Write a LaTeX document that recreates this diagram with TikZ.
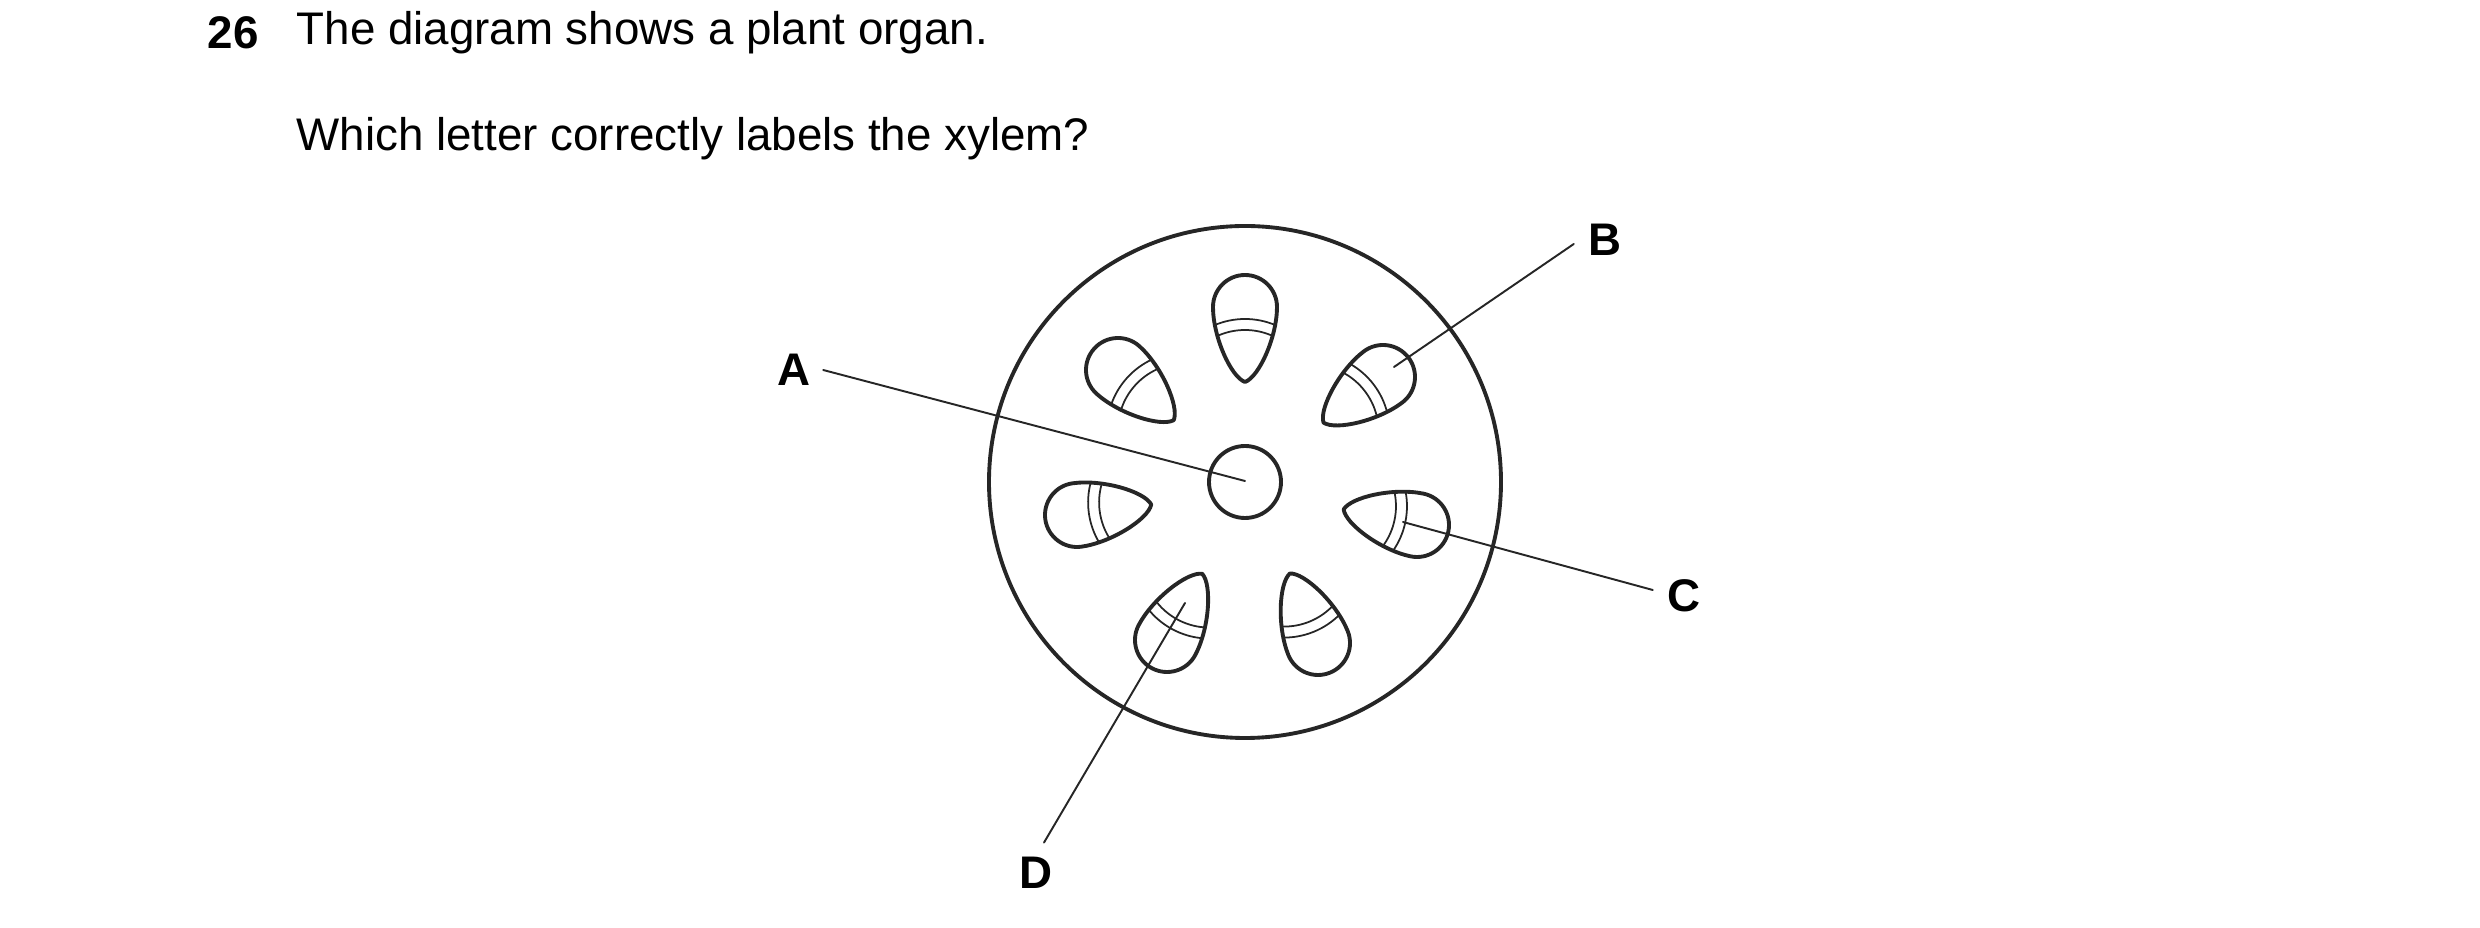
\documentclass[tikz,border=0pt]{standalone}
\usepackage{fontspec}
\setmainfont{Liberation Sans}

% one vascular bundle: rounded end at the origin, tip along +x
\newcommand{\bundleshape}{(75,0) .. controls (70,14) and (30,32) .. (0,32)
    arc (90:270:32) .. controls (30,-32) and (70,-14) .. (75,0) -- cycle}
\newcommand{\bundle}[3]{%
    \begin{scope}[shift={(#1,#2)}, rotate=#3]
        \begin{scope}
            \clip \bundleshape;
            \draw[band] (90,0) circle (78);
            \draw[band] (90,0) circle (67);
        \end{scope}
        \draw[organ] \bundleshape;
    \end{scope}}

\begin{document}
\begin{tikzpicture}[%
        x = 0.01cm,
        y = -0.01cm,
        line cap = round,
        line join = round,
        organ/.style = {line width = 1.1pt, black!85},
        band/.style = {line width = 0.5pt, black!85},
        pointer/.style = {line width = 0.55pt, black!85},
        letter/.style = {font = \fontsize{13}{15}\selectfont\bfseries, inner sep = 0pt}
    ]
        \useasboundingbox (0,0) rectangle (2480,928);

        % Question text.
        \node[letter, anchor = west] (num) at (207,33) {26};
        \node[anchor = west, inner sep = 0pt, font = \fontsize{13}{15}\selectfont] (q1) at (296,33) {The diagram shows a plant organ.};
        \node[anchor = west, inner sep = 0pt, font = \fontsize{13}{15}\selectfont] (q2) at (296,139) {Which letter correctly labels the xylem?};

        % Stem outline and pith.
        \draw[organ] (1245,482) circle (256);
        \draw[organ] (1245,482) circle (36);

        % Vascular bundles.
        \bundle{1245}{307}{-90}
        \bundle{1118}{370}{-42}
        \bundle{1383}{377}{-142.5}
        \bundle{1077}{515}{8}
        \bundle{1417}{525}{168}
        \bundle{1167}{640}{62}
        \bundle{1318}{643}{112}

        % Labels and pointer lines.
        \node[letter] (A) at (794,370) {A};
        \node[letter] (B) at (1605,240) {B};
        \node[letter] (C) at (1684,596) {C};
        \node[letter] (D) at (1036,873) {D};
        \coordinate (a) at (1245,481);
        \coordinate (b) at (1394,367);
        \coordinate (c) at (1403,522);
        \coordinate (d) at (1185,603);
        \draw[pointer] (A.east) ++(12,0) -- (a);
        \draw[pointer] (B.west) ++(-14,4) -- (b);
        \draw[pointer] (C.west) ++(-14,-6) -- (c);
        \draw[pointer] (D.north) ++(8,-14) -- (d);
    \end{tikzpicture}
\end{document}
